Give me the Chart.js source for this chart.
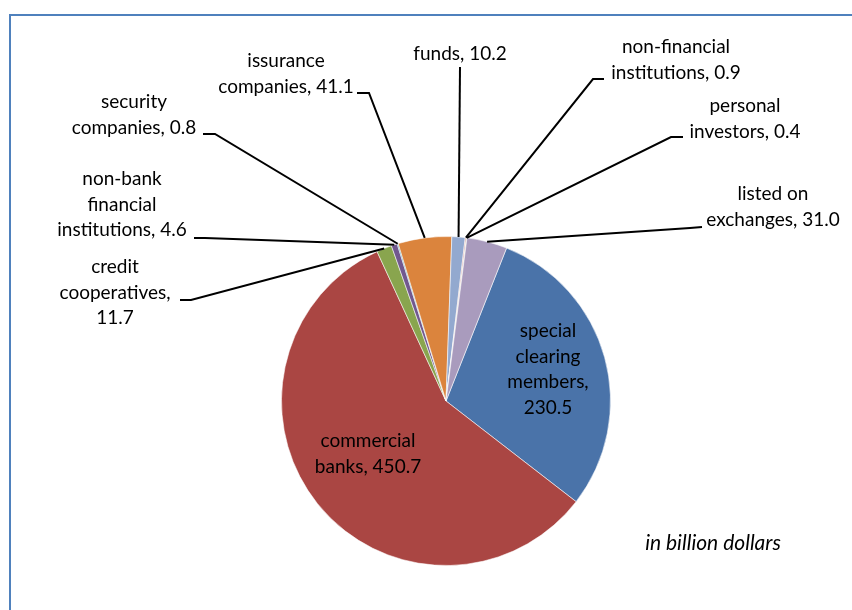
<!DOCTYPE html>
<html>
<head>
<meta charset="utf-8">
<script src="https://cdn.jsdelivr.net/npm/chart.js@4.4.1/dist/chart.umd.min.js"></script>
<style>
  html, body { margin: 0; padding: 0; background: #fff; }
  #wrap { position: relative; width: 852px; height: 610px; }
</style>
</head>
<body>
<div id="wrap"><canvas id="c" width="852" height="610"></canvas></div>
<script>
// Holders of the market, in billion dollars
const categories = [
  'special clearing members',
  'commercial banks',
  'credit cooperatives',
  'non-bank financial institutions',
  'security companies',
  'issurance companies',
  'funds',
  'non-financial institutions',
  'personal investors',
  'listed on exchanges'
];
const values = [230.5, 450.7, 11.7, 4.6, 0.8, 41.1, 10.2, 0.9, 0.4, 31.0];
const valueText = ['230.5', '450.7', '11.7', '4.6', '0.8', '41.1', '10.2', '0.9', '0.4', '31.0'];

// Label wording, split into lines ({v} is replaced by the value)
const labelLines = [
  ['special', 'clearing', 'members,', '{v}'],
  ['commercial', 'banks, {v}'],
  ['credit', 'cooperatives,', '{v}'],
  ['non-bank', 'financial', 'institutions, {v}'],
  ['security', 'companies, {v}'],
  ['issurance', 'companies, {v}'],
  ['funds, {v}'],
  ['non-financial', 'institutions, {v}'],
  ['personal', 'investors, {v}'],
  ['listed on', 'exchanges, {v}']
];

const sliceColors = ['#4A73A9', '#AA4643', '#89A54E', '#71588F', '#4198AF',
                     '#DB843D', '#93A9CF', '#D19392', '#B9CD96', '#A99BBD'];

// Label placement: centre x, first baseline y, and leader-line start/elbow (null = inside label)
const labelLayout = [
  { x: 548, y: 337, leader: null },
  { x: 368, y: 447, leader: null },
  { x: 115, y: 273, leader: [[180, 300], [191, 300]] },
  { x: 122, y: 185, leader: [[194, 238], [205, 238]] },
  { x: 134, y: 108, leader: [[203, 134], [215, 134]] },
  { x: 286, y: 67,  leader: [[357, 93], [369, 93]] },
  { x: 460, y: 60,  leader: [[460, 67], [460, 67]] },
  { x: 676, y: 53,  leader: [[604, 79], [593, 79]] },
  { x: 745, y: 112, leader: [[683, 137], [671, 137]] },
  { x: 773, y: 200, leader: [[702, 227], [690, 228]] }
];

const FONT = '19px Lato, "Open Sans", sans-serif';
const LINE_H = 25.5;

const labelsPlugin = {
  id: 'sliceLabels',
  beforeDraw(chart) {
    // chart frame
    const ctx = chart.ctx;
    ctx.save();
    ctx.strokeStyle = '#4F81BD';
    ctx.lineWidth = 2;
    ctx.strokeRect(10, 15, 900, 700);
    ctx.restore();
  },
  afterDatasetsDraw(chart) {
    const ctx = chart.ctx;
    const meta = chart.getDatasetMeta(0);
    ctx.save();
    ctx.font = FONT;
    ctx.fillStyle = '#000';
    ctx.textAlign = 'center';
    ctx.textBaseline = 'alphabetic';
    meta.data.forEach((arc, i) => {
      const lay = labelLayout[i];
      const lines = labelLines[i].map(s => s.replace('{v}', valueText[i]));
      lines.forEach((ln, k) => ctx.fillText(ln, lay.x, lay.y + k * LINE_H));
      if (lay.leader) {
        const p = arc.getProps(['x', 'y', 'startAngle', 'endAngle', 'outerRadius'], true);
        const mid = (p.startAngle + p.endAngle) / 2;
        const ex = p.x + Math.cos(mid) * p.outerRadius;
        const ey = p.y + Math.sin(mid) * p.outerRadius;
        ctx.beginPath();
        ctx.strokeStyle = '#000';
        ctx.lineWidth = 2;
        ctx.moveTo(lay.leader[0][0], lay.leader[0][1]);
        ctx.lineTo(lay.leader[1][0], lay.leader[1][1]);
        ctx.lineTo(ex, ey);
        ctx.stroke();
      }
    });
    // unit note
    ctx.font = 'italic 21px Lato, "Open Sans", sans-serif';
    ctx.fillText('in billion dollars', 713, 550);
    ctx.restore();
  }
};

new Chart(document.getElementById('c'), {
  type: 'pie',
  data: {
    labels: categories,
    datasets: [{
      data: values,
      backgroundColor: sliceColors,
      borderColor: 'rgba(255,255,255,0.55)',
      borderWidth: 1
    }]
  },
  options: {
    responsive: false,
    animation: false,
    rotation: 21.6,
    layout: { padding: { left: 281, right: 241, top: 236, bottom: 44 } },
    plugins: { legend: { display: false }, tooltip: { enabled: false } }
  },
  plugins: [labelsPlugin]
});
</script>
</body>
</html>
